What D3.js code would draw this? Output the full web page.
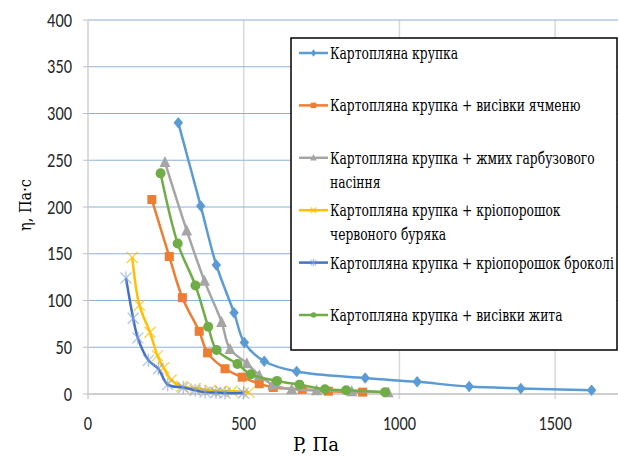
<!DOCTYPE html>
<html><head><meta charset="utf-8">
<script src="https://cdn.jsdelivr.net/npm/d3@7"></script>
<style>html,body{margin:0;padding:0;background:#fff;overflow:hidden}
.serif{font-family:'DejaVu Serif Condensed','DejaVu Serif',serif}
.sans{font-family:Carlito,'Liberation Sans',Arial,sans-serif}</style>
</head><body>
<svg id="c" width="618" height="457"></svg>
<script>
// ---- data ----
const seriesNames = [
  "Картопляна крупка",
  "Картопляна крупка + висівки ячменю",
  "Картопляна крупка + жмих гарбузового насіння",
  "Картопляна крупка + кріопорошок червоного буряка",
  "Картопляна крупка + кріопорошок броколі",
  "Картопляна крупка + висівки жита"
];
const legendLines = [
  ["Картопляна крупка"],
  ["Картопляна крупка + висівки ячменю"],
  ["Картопляна крупка + жмих гарбузового", "насіння"],
  ["Картопляна крупка + кріопорошок", "червоного буряка"],
  ["Картопляна крупка + кріопорошок броколі"],
  ["Картопляна крупка + висівки жита"]
];
const pPotato   = [290,362,412,469,502,566,670,890,1057,1224,1390,1617];
const etaPotato = [290,201,138,87,55,35,24,17,13,8,6,4];
const pBarley   = [205,261,303,357,384,440,495,550,595,688,772,882];
const etaBarley = [208,147,103,67,44,27,18,11,7,5,3,2];
const pPumpkin  = [247,317,374,429,456,510,550,593,654,734,847,964];
const etaPumpkin= [248,175,121,77,48,33,20,10,5,4,3,2];
const pBeet     = [142,165,199,223,243,267,301,344,392,427,462,517];
const etaBeet   = [146,95,66,41,28,15,8,6,4,3,3,2];
const pBroccoli = [122,145,160,194,226,256,306,344,376,411,440,499];
const etaBroccoli=[124,81,60,36,27,10,7,4,2,1.6,1,1];
const pRye      = [233,288,345,386,413,480,523,607,679,761,829,954];
const etaRye    = [236,161,116,72,47,32,21,14,10,5,4,2];
const xTicks = [0,500,1000,1500];
const yTicks = [0,50,100,150,200,250,300,350,400];
const xTitle = "P, Па";
const yTitle = "η, Па·с";

// ---- styles ----
const colors = ["#5b9bd5","#ed7d31","#a5a5a5","#ffc000","#4472c4","#70ad47"];
const markers = ["diamond","square","triangle","x","star","circle"];
const xs = [pPotato,pBarley,pPumpkin,pBeet,pBroccoli,pRye];
const ys = [etaPotato,etaBarley,etaPumpkin,etaBeet,etaBroccoli,etaRye];
const series = seriesNames.map((n,i)=>({name:n,color:colors[i],marker:markers[i],
  pts:xs[i].map((v,j)=>({x:v,y:ys[i][j]}))}));

const svg = d3.select("#c");
const x = d3.scaleLinear().domain([0,1700]).range([88,617.4]);
const y = d3.scaleLinear().domain([0,400]).range([394,20]);
const SX = 0.84; // horizontal squeeze of tick text

function fitWidth(sel, target){ const w = sel.node().getComputedTextLength(); return target / w; }

// gridlines
svg.append("g").selectAll("line").data(xTicks.filter(d=>d>0)).join("line")
  .attr("x1",d=>x(d)).attr("x2",d=>x(d)).attr("y1",y(400)).attr("y2",y(0)+5)
  .attr("stroke","#d9d9d9").attr("stroke-width",1.5);
svg.append("g").selectAll("line").data(yTicks.filter(d=>d>0)).join("line")
  .attr("x1",x(0)).attr("x2",618).attr("y1",d=>y(d)).attr("y2",d=>y(d))
  .attr("stroke","#8eb0da").attr("stroke-width",1.2);
svg.append("line").attr("x1",x(0)).attr("x2",618).attr("y1",y(0)).attr("y2",y(0))
  .attr("stroke","#bfbfbf").attr("stroke-width",1.5);
svg.append("line").attr("x1",x(0)).attr("x2",x(0)).attr("y1",y(400)).attr("y2",y(0)+5)
  .attr("stroke","#d0d0d0").attr("stroke-width",1.5);
svg.append("g").selectAll("line").data(yTicks).join("line")
  .attr("x1",x(0)-5).attr("x2",x(0)).attr("y1",d=>y(d)).attr("y2",d=>y(d))
  .attr("stroke","#bfbfbf").attr("stroke-width",1);

// tick labels
svg.append("g").selectAll("text").data(yTicks).join("text").attr("class","sans")
  .attr("transform",d=>`translate(72,${y(d)+6.5}) scale(${SX},1)`)
  .attr("text-anchor","end")
  .attr("font-size",19.5).attr("fill","#262626").text(d=>d);
svg.append("g").selectAll("text").data(xTicks).join("text").attr("class","sans")
  .attr("transform",d=>`translate(${x(d)},${430}) scale(${SX},1)`)
  .attr("text-anchor","middle")
  .attr("font-size",19.5).attr("fill","#262626").text(d=>d);

// axis titles
const xt = svg.append("text").attr("class","serif").attr("text-anchor","middle")
  .attr("font-size",19).attr("fill","#000").text(xTitle);
xt.attr("transform",`translate(316,451) scale(${fitWidth(xt,46)},1)`);
const yt = svg.append("text").attr("class","serif").attr("text-anchor","middle")
  .attr("font-size",17).attr("fill","#000").text(yTitle);
yt.attr("transform",`translate(31,205) rotate(-90) scale(${fitWidth(yt,52)},1)`);

// marker drawing
function drawMarker(g, type, color, s){
  const h = s/2;
  if(type==="diamond"){
    g.append("path").attr("d",`M0,${-h-1}L${h},0L0,${h+1}L${-h},0Z`).attr("fill",color);
  } else if(type==="square"){
    g.append("rect").attr("x",-h).attr("y",-h).attr("width",s).attr("height",s).attr("fill",color);
  } else if(type==="triangle"){
    g.append("path").attr("d",`M0,${-h-1}L${h+0.5},${h}L${-h-0.5},${h}Z`).attr("fill",color);
  } else if(type==="circle"){
    g.append("circle").attr("r",h).attr("fill",color);
  } else if(type==="x"){
    g.append("path").attr("d",`M${-h},${-h}L${h},${h}M${-h},${h}L${h},${-h}`)
      .attr("stroke",color).attr("stroke-width",1.3).attr("fill","none").attr("opacity",0.75);
  } else if(type==="star"){
    g.append("path").attr("d",`M${-h},${-h}L${h},${h}M${-h},${h}L${h},${-h}M0,${-h-1}L0,${h+1}`)
      .attr("stroke",color).attr("stroke-width",1.3).attr("fill","none").attr("opacity",0.65);
  }
}

// series
const line = d3.line().x(d=>x(d.x)).y(d=>y(d.y)).curve(d3.curveCatmullRom.alpha(0.5));
const markerSize = {diamond:9.5,square:9,triangle:10,circle:10,x:11,star:11};
series.forEach(s=>{
  const g = svg.append("g");
  g.append("path").datum(s.pts).attr("d",line).attr("fill","none")
    .attr("stroke",s.color).attr("stroke-width",2.5).attr("stroke-linejoin","round");
  s.pts.forEach(p=>{
    const mg = g.append("g").attr("transform",`translate(${x(p.x)},${y(p.y)})`);
    drawMarker(mg, s.marker, s.marker==="star"?"#7fa3e0":s.color, markerSize[s.marker]);
  });
});

// legend
const lg = svg.append("g");
lg.append("rect").attr("x",291).attr("y",38).attr("width",326).attr("height",312)
  .attr("fill","#fff").attr("stroke","#000").attr("stroke-width",1.5);
const rowY0 = 53, rowStep = 52.4, lineStep = 24;
const probe = lg.append("text").attr("class","serif").attr("font-size",16).text(legendLines[4][0]);
const LSX = fitWidth(probe, 284);
probe.remove();
legendLines.forEach((lines,i)=>{
  const cy = rowY0 + i*rowStep;
  lg.append("line").attr("x1",299).attr("x2",328).attr("y1",cy).attr("y2",cy)
    .attr("stroke",series[i].color).attr("stroke-width",2.5);
  const mg = lg.append("g").attr("transform",`translate(313.5,${cy})`);
  drawMarker(mg, series[i].marker, series[i].marker==="star"?"#7fa3e0":series[i].color, 5.5);
  lines.forEach((t,k)=>{
    lg.append("text").attr("class","serif").attr("transform",`translate(330,${cy+6+k*lineStep}) scale(${LSX},1)`)
      .attr("font-size",16).attr("fill","#000").text(t);
  });
});
</script>
</body></html>
